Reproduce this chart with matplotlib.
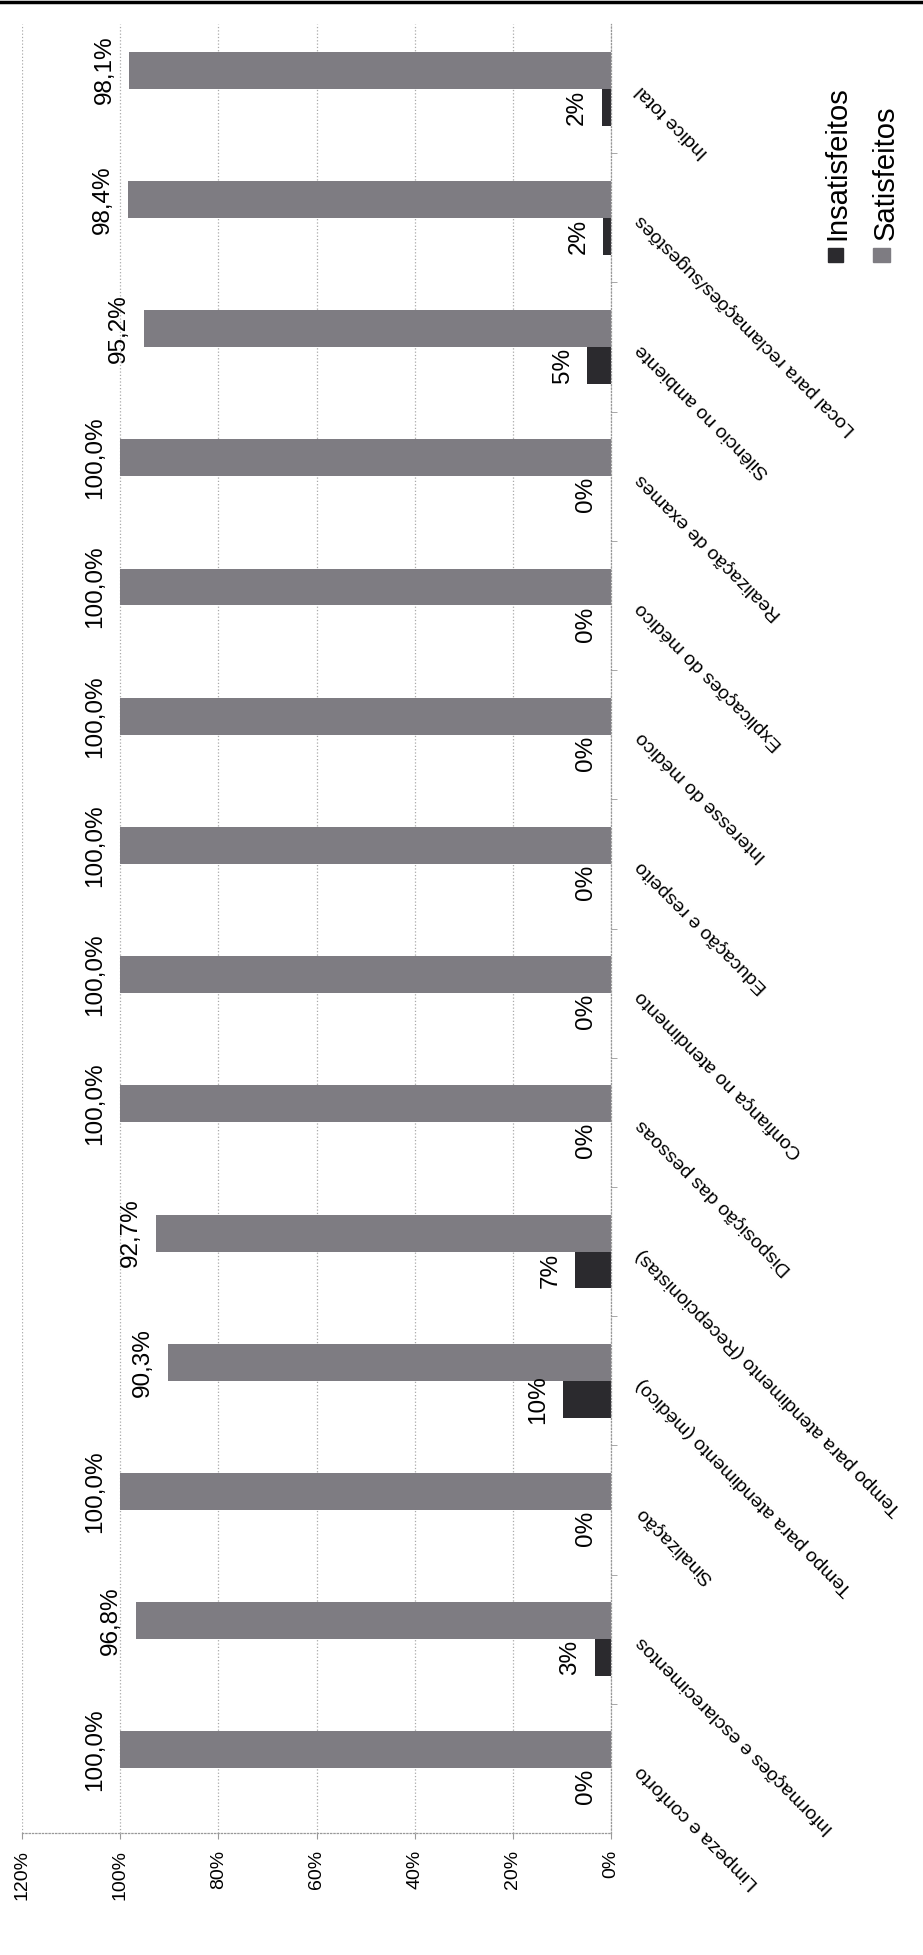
import matplotlib.pyplot as plt
from matplotlib.patches import Rectangle
from matplotlib.lines import Line2D
import numpy as np

plt.rcParams['font.family'] = ['Liberation Sans', 'DejaVu Sans']

categories = ["Limpeza e conforto", "Informações e esclarecimentos", "Sinalização",
              "Tempo para atendimento (médico)", "Tempo para atendimento (Recepcionistas)",
              "Disposição das pessoas", "Confiança no atendimento", "Educação e respeito",
              "Interesse do médico", "Explicações do médico", "Realização de exames",
              "Silêncio no ambiente", "Local para reclamações/sugestões", "Indice total"]
satisfeitos = [100.0, 96.8, 100.0, 90.3, 92.7, 100.0, 100.0, 100.0, 100.0, 100.0, 100.0, 95.2, 98.4, 98.1]
insatisfeitos = [0.0, 3.2, 0.0, 9.7, 7.3, 0.0, 0.0, 0.0, 0.0, 0.0, 0.0, 4.8, 1.6, 1.9]
series_names = ["Insatisfeitos", "Satisfeitos"]
colors = ["#2b2a2e", "#7e7c82"]
x_ticks = [0, 20, 40, 60, 80, 100, 120]

W, H = 923, 1955
fig = plt.figure(figsize=(W / 100, H / 100), dpi=100)
# chart is a scanned page turned sideways: value axis runs right-to-left
ax = fig.add_axes([22 / W, 1 - 1833 / H, (611 - 22) / W, (1833 - 24) / H])

y = np.arange(len(categories))
bw = 0.286
ax.barh(y - bw / 2, insatisfeitos, height=bw, color=colors[0], label=series_names[0])
ax.barh(y + bw / 2, satisfeitos, height=bw, color=colors[1], label=series_names[1])

for i, v in enumerate(satisfeitos):
    ax.annotate(f"{v:.1f}%".replace('.', ','), xy=(v, i + bw / 2), xytext=(-10, 0),
                textcoords='offset points', rotation=90, ha='right', va='center', fontsize=17.5)
for i, v in enumerate(insatisfeitos):
    ax.annotate(f"{v:.0f}%", xy=(v, i - bw / 2), xytext=(-10, 0),
                textcoords='offset points', rotation=90, ha='right', va='center', fontsize=17.5)

ax.set_xlim(120, 0)
ax.set_ylim(-0.5, len(categories) - 0.5)
ax.set_xticks(x_ticks)
ax.set_xticklabels([f"{t}%" for t in x_ticks], rotation=90, fontsize=14)
ax.tick_params(axis='x', length=4, pad=8, color='#999999')

ax.yaxis.tick_right()
ax.set_yticks(y)
ax.set_yticklabels(categories, rotation=135, rotation_mode='anchor', ha='right', va='center', fontsize=14)
ax.set_yticks(y[:-1] + 0.5, minor=True)
ax.tick_params(axis='y', which='major', length=0, pad=20)
ax.tick_params(axis='y', which='minor', length=4, color='#999999')

ax.grid(axis='x', linestyle=':', color='#aaaaaa', linewidth=0.9)
ax.set_axisbelow(True)
for s in ['top', 'left']:
    ax.spines[s].set_visible(False)
for s in ['bottom', 'right']:
    ax.spines[s].set_linestyle(':')
    ax.spines[s].set_color('#999999')
    ax.spines[s].set_linewidth(0.9)

# legend drawn by hand so it can be turned like the rest of the page
leg_x = [(828, 843, 837), (873, 890, 886)]
for name, col, (x0, x1, xt) in zip(series_names, colors, leg_x):
    fig.add_artist(Rectangle((x0 / W, 1 - 262 / H), (x1 - x0) / W, 14 / H,
                             transform=fig.transFigure, color=col))
    fig.text(xt / W, 1 - 240 / H, name, rotation=90, ha='center', va='bottom', fontsize=21)

fig.add_artist(Line2D([0, 1], [1 - 1.5 / H, 1 - 1.5 / H], transform=fig.transFigure,
                      color='black', linewidth=2.5))

fig.savefig("out.png", dpi=100)
